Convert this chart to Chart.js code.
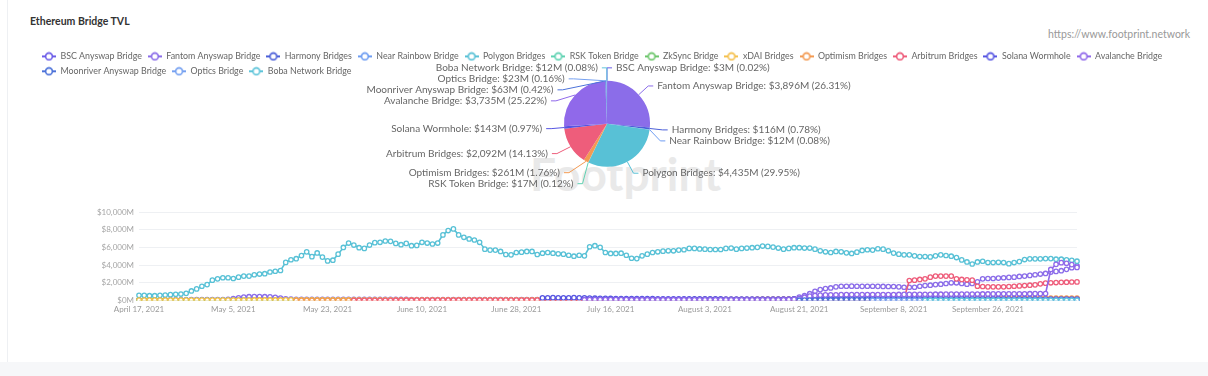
<!DOCTYPE html>
<html>
<head>
<meta charset="utf-8">
<script src="https://cdn.jsdelivr.net/npm/chart.js@4.4.1/dist/chart.umd.min.js"></script>
<style>
html,body{margin:0;padding:0;background:#fff;}
body{width:1208px;height:376px;position:relative;overflow:hidden;font-family:Lato,'Noto Sans',sans-serif;}
#card{position:absolute;left:7px;top:0;width:1201px;height:362px;border-left:1px solid #eef0f3;background:#fff;}
#band{position:absolute;left:0;top:362px;width:1208px;height:14px;background:#f6f7f9;}
#title{position:absolute;left:30px;top:15px;font-size:10.5px;font-weight:700;color:#333;white-space:nowrap;}
#url{position:absolute;right:18px;top:28px;font-size:10.5px;color:#999;white-space:nowrap;}
#wm{position:absolute;left:530px;top:146px;font-size:46px;font-weight:700;color:#e9e9e9;white-space:nowrap;}
#pieWrap{position:absolute;left:0;top:46px;width:1208px;height:150px;}
#lineWrap{position:absolute;left:0;top:196px;width:1208px;height:130px;}
</style>
</head>
<body>
<div id="card"></div>
<div id="band"></div>
<div id="title">Ethereum Bridge TVL</div>
<div id="url">https://www.footprint.network</div>
<div id="wm">Footprint</div>
<div id="pieWrap"><canvas id="pie"></canvas></div>
<div id="lineWrap"><canvas id="line"></canvas></div>
<script>
const _ = null;
const seriesNames = ['BSC Anyswap Bridge','Fantom Anyswap Bridge','Harmony Bridges','Near Rainbow Bridge','Polygon Bridges','RSK Token Bridge','ZkSync Bridge','xDAI Bridges','Optimism Bridges','Arbitrum Bridges','Solana Wormhole','Avalanche Bridge','Moonriver Anyswap Bridge','Optics Bridge','Boba Network Bridge'];
const seriesColors = ['#6c5de8','#8b6de9','#4b5fd8','#6e9df2','#58c1d6','#5fd2b2','#6cc66b','#f5c04c','#f39a52','#ee5d7b','#5655e2','#9069ea','#4c72d9','#76a1f1','#5fc5da'];
const tickLabels = ['April 17, 2021','May 5, 2021','May 23, 2021','June 10, 2021','June 28, 2021','July 16, 2021','August 3, 2021','August 21, 2021','September 8, 2021','September 26, 2021'];
// TVL on the last day ($M), shown in the pie
const pieValues = [3,3896,116,12,4435,17.4,0,0,261,2092,143,3735,62.8,23,12];

// daily TVL, $M, April 17 2021 .. October 13 2021
const bsc = [
18,18,19,19,20,21,21,22,22,23, 24,25,26,26,27,28,28,29,30,30, 31,31,32,33,33,34,34,35,35,36, 36,37,37,38,38,38,39,39,39,40,
40,40,41,41,41,40,40,40,39,39, 39,38,38,38,37,37,36,36,36,35, 35,34,34,33,33,32,32,31,31,30, 30,29,29,28,28,27,27,26,26,25,
25,24,24,23,23,22,22,21,21,20, 20,19,19,18,18,17,17,16,16,15, 15,15,14,14,13,13,12,12,12,11, 11,11,10,10,10,9,9,9,9,8,
8,8,8,7,7,7,7,7,6,6, 6,6,6,6,6,5,5,5,5,5, 5,5,5,5,5,4,4,4,4,4, 4,4,4,4,4,4,4,4,4,4,
4,4,4,4,3,3,3,3,3,3, 3,3,3,3,3,3,3,3,3,3];
const fantom = [
60,62,61,63,65,66,68,70,72,75, 80,80,82,84,86,90,100,130,200,300, 380,420,430,430,420,400,350,260,180,140, 125,122,120,118,117,116,115,114,113,112,
112,111,110,110,109,108,108,107,106,106, 105,105,104,103,102,101,100,100,99,98, 98,97,96,96,95,95,94,94,93,93, 92,92,91,91,90,90,90,89,89,88,
88,87,87,86,86,86,85,85,85,84, 84,84,83,83,83,82,82,82,82,81, 81,81,80,80,80,80,80,80,80,80, 80,80,80,81,81,82,82,83,84,85,
88,92,98,110,125,150,380,530,760,1030, 1220,1340,1410,1530,1600,1600,1610,1600,1590,1600, 1600,1590,1580,1570,1570,1530,1490,1490,1490,1600, 1680,1720,1790,1830,1910,1990,1990,1910,1830,1910,
2100,2440,2480,2480,2520,2560,2600,2630,2710,2750, 2830,2900,2980,3050,3200,3280,3360,3510,3700,3896];
const harmony = [
_,_,_,_,_,_,_,_,_,_, _,_,_,_,_,_,_,_,_,_, _,_,_,_,_,_,_,_,_,_, _,_,_,_,_,_,_,_,_,_,
_,_,_,_,_,_,_,_,_,_, _,_,_,_,_,_,_,_,_,_, 20,22,25,28,30,32,35,38,40,42, 45,46,48,50,52,54,55,56,58,60,
62,63,64,65,66,68,70,71,72,74, 75,76,77,78,79,80,80,81,82,83, 84,85,86,86,87,88,89,90,90,91, 92,93,94,95,96,97,98,99,100,101,
102,104,106,108,110,115,120,125,130,135, 140,145,150,152,155,158,160,160,158,156, 155,152,150,148,146,145,143,142,140,138, 136,135,134,132,130,129,128,127,126,125,
124,123,122,121,120,120,119,119,118,118, 118,117,117,117,116,116,116,116,116,116];
const near = [
3,3,3,4,4,4,4,5,5,5, 5,6,6,6,6,7,7,7,7,8, 8,8,8,9,9,9,9,10,10,10, 10,10,11,11,11,11,12,12,12,12,
12,12,13,13,13,13,13,14,14,14, 14,14,14,15,15,15,15,15,15,16, 16,16,16,16,16,16,17,17,17,17, 17,17,17,17,17,17,18,18,18,18,
18,18,18,18,18,18,18,18,18,18, 18,18,17,17,17,17,17,17,17,17, 17,17,16,16,16,16,16,16,16,16, 15,15,15,15,15,15,15,15,14,14,
14,14,14,14,14,14,14,13,13,13, 13,13,13,13,13,13,13,13,13,13, 13,13,13,13,13,13,12,12,12,12, 12,12,12,12,12,12,12,12,12,12,
12,12,12,12,12,12,12,12,12,12, 12,12,12,12,12,12,12,12,12,12];
const polygon = [
570,570,530,530,570,610,650,690,720,800, 1070,1300,1600,1790,2290,2440,2560,2560,2480,2630,
2750,2750,2900,2980,3020,3210,3300,3380,4300,4600, 4720,5070,5490,4950,5370,4900,4470,4550,5230,5990,
6490,6260,5960,5880,6260,6530,6570,6720,6680,6450, 6300,6450,6190,6220,6570,6490,6380,6490,7410,7900,
8090,7410,7140,6950,6830,6570,5800,5690,5690,5540, 5190,5150,5420,5460,5540,5540,5190,5340,5420,5340,
5270,5230,5110,5000,5110,5040,6070,6190,6000,5420, 5310,5310,5340,5110,4770,4730,5040,5230,5420,5500,
5570,5610,5610,5690,5730,5880,5880,5820,5800,5760, 5760,5760,5880,5920,5800,5880,5920,5960,6000,6150,
6110,6030,5920,5800,5880,5960,5960,5920,5920,5800, 5610,5500,5420,5540,5500,5380,5310,5460,5650,5730,
5690,5840,5800,5610,5350,5230,5150,5150,5040,4960, 4960,4920,5040,5150,5080,5000,4850,4580,4350,4120,
4350,4430,4280,4280,4310,4280,4160,4280,4390,4620, 4700,4700,4700,4730,4730,4660,4660,4580,4540,4435];
const rsk = [
14,14,14,14,15,15,15,15,15,15, 15,15,15,15,15,16,16,16,16,16, 16,16,16,16,16,16,16,16,16,16, 16,16,16,17,17,17,17,17,17,17,
17,17,17,17,17,17,17,17,17,17, 17,17,17,17,17,17,17,18,18,18, 18,18,18,18,18,18,18,18,18,18, 18,18,18,18,18,18,18,18,18,18,
18,18,18,18,18,18,18,18,18,18, 18,18,18,18,18,18,18,18,18,18, 18,18,18,18,18,17,17,17,17,17, 17,17,17,17,17,17,17,17,17,17,
17,17,17,17,17,17,17,17,17,17, 17,17,17,17,17,17,17,17,17,17, 17,17,17,17,17,17,17,17,17,17, 17,17,17,17,17,17,17,17,17,17,
17,17,17,17,17,17,17,17,17,17, 17,17,17,17,17,17,17,17,17,17];
const zksync = [
2,2,2,2,2,3,3,3,3,3, 3,3,3,3,4,4,4,4,4,4, 4,4,4,4,4,4,5,5,5,5, 5,5,5,5,5,5,5,5,5,5,
5,5,5,5,5,5,6,6,6,6, 6,6,6,6,6,6,6,6,6,6, 6,6,6,6,6,6,6,6,6,6, 6,6,6,6,6,6,6,5,5,5,
5,5,5,5,5,5,5,5,5,5, 5,5,5,5,5,5,5,5,5,5, 5,5,5,5,5,4,4,4,4,4, 4,4,4,4,4,4,4,4,4,4,
4,4,4,4,4,4,4,4,4,4, 4,4,4,4,4,4,4,4,4,4, 4,4,4,4,3,3,3,3,3,3, 3,3,3,3,3,3,3,3,3,3,
3,3,3,3,3,3,3,3,3,3, 3,3,3,3,3,3,3,3,3,_];
const xdai = [
32,33,33,34,35,35,36,37,38,38, 39,40,41,42,42,43,44,45,46,46, 47,48,49,50,50,51,52,53,54,55, 55,56,57,58,58,59,60,60,61,62,
62,63,63,64,64,65,65,66,66,66, 67,67,67,68,68,68,68,69,69,69, 69,69,70,70,70,70,70,70,70,70, 70,70,70,70,69,69,69,69,68,68,
68,67,67,67,66,66,65,65,64,64, 63,63,62,62,61,61,60,60,59,58, 58,57,57,56,55,55,54,53,53,52, 51,51,50,49,49,48,47,47,46,45,
45,44,43,43,42,41,41,40,39,39, 38,37,37,36,35,35,34,34,33,32, 32,31,31,30,30,29,29,28,28,27, 27,26,26,25,25,25,24,24,23,23,
23,22,22,22,21,21,21,20,20,20, 19,19,19,19,18,18,18,18,18,_];
const optimism = [
_,_,_,_,_,_,_,_,_,_, _,_,_,_,_,_,_,_,_,_, _,_,_,_,_,_,_,_,_,_, 4,5,5,6,7,8,8,9,10,11,
12,13,13,14,15,16,17,18,18,19, 20,21,22,23,24,25,26,27,28,29, 30,31,33,34,35,36,38,39,40,42, 43,44,46,47,48,50,51,53,54,56,
57,59,60,62,64,65,67,69,70,72, 74,76,77,79,81,83,85,87,89,91, 93,95,97,99,101,103,105,108,110,112, 114,116,119,121,123,126,128,130,133,135,
138,140,143,145,148,150,153,156,158,161, 164,166,169,172,174,177,180,183,185,188, 191,194,197,199,202,205,208,210,213,216, 218,221,223,226,228,230,232,234,236,238,
240,242,243,245,246,248,249,250,251,252, 253,254,255,256,257,258,259,260,260,261];
const arbitrum = [
_,_,_,_,_,_,_,_,_,_, _,_,_,_,_,_,_,_,_,_, _,_,_,_,_,_,_,_,_,_, _,_,_,_,_,_,_,_,_,_,
_,5,8,10,12,14,15,16,18,20, 22,24,25,26,27,28,29,30,30,31, 32,32,33,34,35,35,36,36,37,38, 38,39,40,40,41,42,42,43,44,45,
45,46,46,47,48,48,49,50,50,51, 52,52,53,54,54,55,56,56,57,58, 58,59,60,60,61,62,62,63,64,65, 65,66,67,68,68,69,70,71,72,72,
73,74,75,76,77,78,80,82,85,88, 90,95,100,105,110,115,120,125,130,140, 150,160,170,180,190,200,210,2250,2290,2370, 2440,2630,2750,2750,2750,2750,2440,2370,2330,2290,
1600,1570,1530,1530,1530,1530,1570,1600,1640,1680, 1720,1760,1870,1950,1990,2020,2040,2060,2080,2092];
const solana = [
_,_,_,_,_,_,_,_,_,_, _,_,_,_,_,_,_,_,_,_, _,_,_,_,_,_,_,_,_,_, _,_,_,_,_,_,_,_,_,_,
_,_,_,_,_,_,_,_,_,_, _,_,_,_,_,_,_,_,_,_, _,_,_,_,_,_,_,_,_,_, _,_,_,_,_,_,_,280,300,310,
300,290,300,310,290,280,260,250,240,230, 220,215,210,205,200,200,195,190,190,185, 180,180,178,175,175,172,170,170,168,165, 165,163,160,160,158,156,155,155,153,152,
150,150,152,155,160,170,180,190,200,210, 220,230,240,250,255,260,260,262,265,265, 268,270,270,272,270,268,265,262,260,258, 255,250,248,245,240,235,230,225,220,215,
210,205,200,195,190,185,180,175,170,168, 165,162,160,158,155,152,150,148,145,143];
const avalanche = [
_,_,_,_,_,_,_,_,_,_, _,_,_,_,_,_,_,_,_,_, _,_,_,_,_,_,_,_,_,_, _,_,_,_,_,_,_,_,_,_,
_,_,_,_,_,_,_,_,_,_, _,_,_,_,_,_,_,_,_,_, _,_,_,_,_,_,_,_,_,_, _,_,_,_,_,_,_,_,_,_,
_,_,_,_,_,80,85,90,88,86, 85,84,84,83,82,82,81,80,80,79, 79,78,78,77,77,76,76,75,75,74, 74,74,73,73,72,72,72,71,71,70,
70,72,75,80,90,130,220,360,480,560, 600,620,630,640,650,650,655,660,660,665, 660,660,665,670,670,675,680,680,685,690, 690,695,700,700,705,710,710,715,720,720,
725,730,730,735,740,740,745,750,750,755, 760,765,765,770,3500,4080,4270,4200,4050,3735];
const moonriver = [
_,_,_,_,_,_,_,_,_,_, _,_,_,_,_,_,_,_,_,_, _,_,_,_,_,_,_,_,_,_, _,_,_,_,_,_,_,_,_,_,
_,_,_,_,_,_,_,_,_,_, _,_,_,_,_,_,_,_,_,_, _,_,_,_,_,_,_,_,_,_, _,_,_,_,_,_,_,_,_,_,
_,_,_,_,_,_,_,_,_,_, _,_,_,_,_,_,_,_,_,_, _,_,_,_,_,_,_,_,_,_, _,_,_,_,_,_,_,_,_,_,
_,_,_,_,_,_,20,28,35,40, 44,47,50,52,54,55,57,58,58,59, 60,60,61,61,62,62,62,63,63,63, 64,64,64,65,65,65,64,64,64,64,
63,63,63,63,64,64,64,63,63,63, 63,63,63,63,63,63,63,63,63,63];
const optics = [
_,_,_,_,_,_,_,_,_,_, _,_,_,_,_,_,_,_,_,_, _,_,_,_,_,_,_,_,_,_, _,_,_,_,_,_,_,_,_,_,
_,_,_,_,_,_,_,_,_,_, _,_,_,_,_,_,_,_,_,_, _,_,_,_,_,_,_,_,_,_, _,_,_,_,_,_,_,_,_,_,
_,_,_,_,_,_,_,_,_,_, _,_,_,_,_,_,_,_,_,_, _,_,_,_,_,_,_,_,_,_, _,_,_,_,_,_,_,_,_,_,
_,_,_,_,_,_,_,_,_,_, _,_,_,_,_,_,_,_,_,_, 8,10,12,14,15,16,17,18,18,19, 19,20,20,20,21,21,21,21,22,22,
22,22,22,22,22,23,23,23,23,23, 23,23,23,23,23,23,23,23,23,23];
const boba = [
_,_,_,_,_,_,_,_,_,_, _,_,_,_,_,_,_,_,_,_, _,_,_,_,_,_,_,_,_,_, _,_,_,_,_,_,_,_,_,_,
_,_,_,_,_,_,_,_,_,_, _,_,_,_,_,_,_,_,_,_, _,_,_,_,_,_,_,_,_,_, _,_,_,_,_,_,_,_,_,_,
_,_,_,_,_,_,_,_,_,_, _,_,_,_,_,_,_,_,_,_, _,_,_,_,_,_,_,_,_,_, _,_,_,_,_,_,_,_,_,_,
_,_,_,_,_,_,_,_,_,_, _,_,_,_,_,_,_,_,_,_, _,_,_,_,_,_,_,_,_,_, 2,3,4,5,6,7,7,8,8,9,
9,9,10,10,10,10,11,11,11,11, 11,11,12,12,12,12,12,12,12,12];

const seriesData = [bsc,fantom,harmony,near,polygon,rsk,zksync,xdai,optimism,arbitrum,solana,avalanche,moonriver,optics,boba];

// category labels: one per day starting April 17, 2021
const monthNames = ['January','February','March','April','May','June','July','August','September','October','November','December'];
const categories = [];
for (let i = 0; i < polygon.length; i++) {
  const d = new Date(Date.UTC(2021, 3, 17 + i));
  categories.push(monthNames[d.getUTCMonth()] + ' ' + d.getUTCDate() + ', ' + d.getUTCFullYear());
}

const FONT = 'Lato, "Noto Sans", sans-serif';
function makeSymbol(color) {
  const c = document.createElement('canvas');
  c.width = 14; c.height = 10;
  const g = c.getContext('2d');
  g.strokeStyle = color; g.lineWidth = 2;
  g.beginPath(); g.moveTo(0, 5); g.lineTo(14, 5); g.stroke();
  g.beginPath(); g.arc(7, 5, 3.4, 0, Math.PI * 2);
  g.fillStyle = '#fff'; g.fill(); g.lineWidth = 1.6; g.stroke();
  return c;
}
const fmtM = v => Math.round(v).toLocaleString('en-US');

const LEN1 = 13, LEN2 = 5, GAP = 4, LINE_H = 11;
const pieLabelPlugin = {
  id: 'pieLabels',
  afterDraw(chart) {
    const ctx = chart.ctx;
    const ds = chart.data.datasets[0];
    const meta = chart.getDatasetMeta(0);
    const total = ds.data.reduce((a, b) => a + b, 0);
    const items = [];
    let cx = 0, cy = 0, r = 0;
    meta.data.forEach((arc, i) => {
      const v = ds.data[i];
      if (!v) return;
      const p = arc.getProps(['x', 'y', 'startAngle', 'endAngle', 'outerRadius'], true);
      cx = p.x; cy = p.y; r = p.outerRadius;
      const mid = (p.startAngle + p.endAngle) / 2;
      const c = Math.cos(mid), s = Math.sin(mid);
      const dir = c >= 0 ? 1 : -1;
      const R = r + LEN1;
      items.push({
        dir, ex: cx + r * c, ey: cy + r * s, dx0: R * c,
        y: cy + R * s, x: cx + R * c + dir * LEN2,
        color: ds.backgroundColor[i],
        text: chart.data.labels[i] + ': $' + fmtM(v) + 'M (' + (v / total * 100).toFixed(2) + '%)'
      });
    });
    const R = r + LEN1;
    [1, -1].forEach(dir => {
      const list = items.filter(it => it.dir === dir).sort((a, b) => a.y - b.y);
      let shifted = false;
      for (let k = 1; k < list.length; k++) {
        const min = list[k - 1].y + LINE_H;
        if (list[k].y < min) { list[k].y = min; shifted = true; }
      }
      if (!shifted) return;
      const semis = [{ list: [], maxY: -1, rB: R }, { list: [], maxY: -1, rB: R }];
      list.forEach(it => {
        const semi = it.y > cy ? semis[1] : semis[0];
        const dy = Math.abs(it.y - cy);
        if (dy >= semi.maxY) {
          const dx = it.dx0;
          semi.rB = Math.abs(dx) < R ? Math.sqrt(dy * dy / (1 - dx * dx / (R * R))) : R;
          semi.maxY = dy;
        }
        semi.list.push(it);
      });
      semis.forEach(semi => semi.list.forEach(it => {
        const dy = Math.abs(it.y - cy);
        const dx = Math.sqrt(Math.max(0, 1 - dy * dy / (semi.rB * semi.rB)) * R * R);
        it.x = cx + (dx + LEN2) * dir;
      }));
    });
    ctx.save();
    ctx.font = '10px ' + FONT;
    ctx.textBaseline = 'middle';
    items.forEach(it => {
      ctx.strokeStyle = it.color; ctx.lineWidth = 1;
      ctx.beginPath();
      ctx.moveTo(it.ex, it.ey);
      ctx.lineTo(it.x - it.dir * LEN2, it.y);
      ctx.lineTo(it.x, it.y);
      ctx.stroke();
      ctx.fillStyle = '#666';
      ctx.textAlign = it.dir > 0 ? 'left' : 'right';
      ctx.fillText(it.text, it.x + it.dir * GAP, it.y);
    });
    ctx.restore();
  }
};

new Chart(document.getElementById('pie'), {
  type: 'pie',
  data: {
    labels: seriesNames,
    datasets: [{ data: pieValues, backgroundColor: seriesColors, borderWidth: 0, radius: 43 }]
  },
  options: {
    responsive: true, maintainAspectRatio: false, animation: false,
    radius: 43,
    layout: { padding: { left: 36, right: 30, top: 0, bottom: 34 } },
    plugins: {
      tooltip: { enabled: false },
      legend: {
        position: 'top', align: 'start',
        labels: {
          usePointStyle: true, pointStyleWidth: 14, boxHeight: 10, padding: 6,
          color: '#666', font: { family: FONT, size: 8.85 },
          generateLabels: () => seriesNames.map((n, i) => ({
            text: n, pointStyle: makeSymbol(seriesColors[i]), fillStyle: seriesColors[i],
            strokeStyle: seriesColors[i], lineWidth: 0, hidden: false, index: i, fontColor: '#666'
          }))
        }
      }
    }
  },
  plugins: [pieLabelPlugin]
});

new Chart(document.getElementById('line'), {
  type: 'line',
  data: {
    labels: categories,
    datasets: seriesData.map((d, i) => ({
      label: seriesNames[i], data: d,
      borderColor: seriesColors[i], backgroundColor: seriesColors[i],
      pointBackgroundColor: '#fff', pointBorderColor: seriesColors[i],
      pointRadius: 2.2, pointBorderWidth: 1.3, borderWidth: 1.6, tension: 0,
      order: seriesNames.length - 1 - i
    }))
  },
  options: {
    responsive: true, maintainAspectRatio: false, animation: false,
    layout: { padding: { left: 0, right: 131, top: 16, bottom: 8 } },
    plugins: { legend: { display: false }, tooltip: { enabled: false } },
    scales: {
      x: {
        grid: { display: false, drawTicks: false },
        border: { display: true, color: '#e6e8ec' },
        ticks: {
          autoSkip: false, maxRotation: 0, minRotation: 0, padding: 4,
          color: '#9a9a9a', font: { family: FONT, size: 8 },
          callback(v) { const l = this.getLabelForValue(v); return tickLabels.includes(l) ? l : ''; }
        }
      },
      y: {
        min: 0, max: 10000,
        grid: { color: '#eef0f3', drawTicks: false },
        border: { display: false },
        ticks: {
          stepSize: 2000, padding: 5, color: '#a5a5a5', font: { family: FONT, size: 8 },
          callback: v => '$' + v.toLocaleString('en-US') + 'M'
        },
        afterFit(s) { s.width = 139; }
      }
    }
  }
});
</script>
</body>
</html>
